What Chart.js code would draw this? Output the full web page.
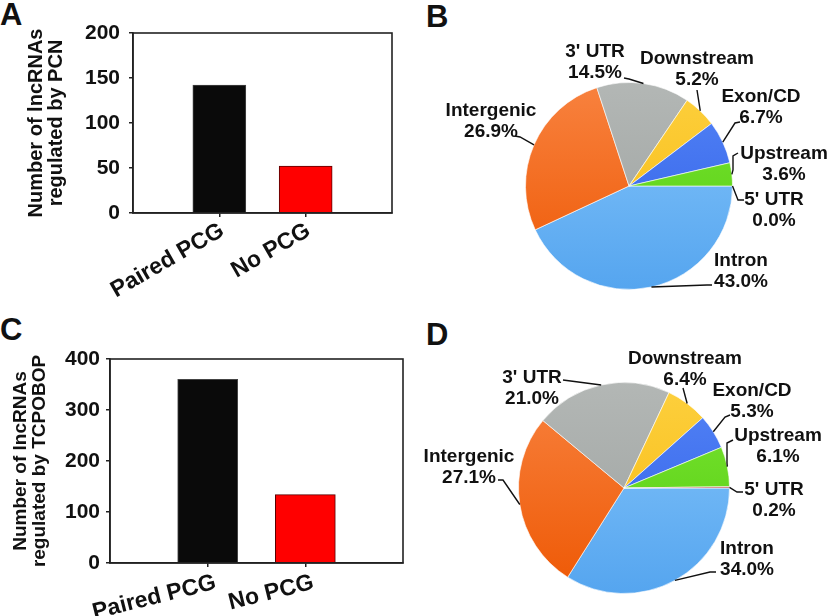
<!DOCTYPE html>
<html>
<head>
<title>lncRNAs regulated by PCN and TCPOBOP</title>
<script src="https://cdn.jsdelivr.net/npm/chart.js"></script>
<style>
  body { margin: 0; width: 830px; height: 616px; position: relative; background: #fff; overflow: hidden;
         font-family: "Liberation Sans", Arial, sans-serif; }
  .panel { position: absolute; }
  .tag { position: absolute; font-weight: bold; font-size: 31px; line-height: 1; color: #111; }
</style>
</head>
<body>

<div class="tag" style="left:0;top:-1px">A</div>
<div class="tag" style="left:426px;top:1px">B</div>
<div class="tag" style="left:0;top:314px">C</div>
<div class="tag" style="left:426px;top:319px">D</div>

<div class="panel" style="left:0;top:0;width:420px;height:300px"><canvas id="barA"></canvas></div>
<div class="panel" style="left:420px;top:0;width:410px;height:300px"><canvas id="pieB"></canvas></div>
<div class="panel" style="left:0;top:300px;width:420px;height:316px"><canvas id="barC"></canvas></div>
<div class="panel" style="left:420px;top:300px;width:410px;height:316px"><canvas id="pieD"></canvas></div>

<script>
  // Daten
  const barCategories = ['Paired PCG', 'No PCG'];
  const pcnCounts = [142, 52];
  const tcpobopCounts = [360, 134];
  const pcnTicks = [0, 50, 100, 150, 200];
  const tcpobopTicks = [0, 100, 200, 300, 400];

  const pieCategories = ['Intron', 'Intergenic', "3' UTR", 'Downstream', 'Exon/CD', 'Upstream', "5' UTR"];
  const pcnShares = [43.0, 26.9, 14.5, 5.2, 6.7, 3.6, 0.0];
  const tcpobopShares = [34.0, 27.1, 21.0, 6.4, 5.3, 6.1, 0.2];

  const FONT = '"Liberation Sans", Arial, sans-serif';
  const barColors = ['#0a0a0a', '#ff0000'];
  const barBorders = ['#444', '#5a0000'];
  // [hell, dunkel] pro Segment
  const pieColors = [
    ['#86c6fb', '#55a5ef'],
    ['#f8823f', '#ee5804'],
    ['#b3b7b5', '#9ca19f'],
    ['#fdd03e', '#f6b80e'],
    ['#5384f6', '#2f5de6'],
    ['#7be532', '#52cb10'],
    ['#d04a4a', '#b03030']
  ];

  // Rahmen um den Plotbereich
  const frame = {
    id: 'frame',
    afterDraw(chart) {
      const { ctx, chartArea: a } = chart;
      ctx.save();
      ctx.strokeStyle = '#222';
      ctx.lineWidth = 1.6;
      ctx.strokeRect(a.left, a.top, a.right - a.left, a.bottom - a.top);
      ctx.restore();
    }
  };

  function barChart(id, counts, ticks, title, box) {
    new Chart(document.getElementById(id), {
      type: 'bar',
      data: {
        labels: ['', ...barCategories, ''],
        datasets: [{
          data: [null, ...counts, null],
          backgroundColor: ['transparent', ...barColors, 'transparent'],
          borderColor: ['transparent', ...barBorders, 'transparent'],
          borderWidth: 1,
          barThickness: box.barW
        }]
      },
      options: {
        responsive: true,
        maintainAspectRatio: false,
        animation: false,
        layout: { padding: { top: box.top, right: box.right, left: 0, bottom: 0 } },
        plugins: { legend: { display: false }, tooltip: { enabled: false } },
        scales: {
          x: {
            offset: false,
            grid: {
              offset: false, drawOnChartArea: false, tickLength: 4, lineWidth: 1.5,
              color: c => (c.index === 1 || c.index === 2) ? '#222' : 'rgba(0,0,0,0)'
            },
            border: { color: '#222', width: 1.6 },
            ticks: {
              autoSkip: false, minRotation: box.rot, maxRotation: box.rot, padding: box.xpad,
              labelOffset: box.xoff,
              color: '#111', font: { family: FONT, size: 23, weight: 'bold' }
            },
            afterFit: s => { s.height = box.xh; }
          },
          y: {
            min: ticks[0],
            max: ticks[ticks.length - 1],
            afterBuildTicks: s => { s.ticks = ticks.map(v => ({ value: v })); },
            grid: { drawOnChartArea: false, tickLength: 4, color: '#222', lineWidth: 1.5 },
            border: { color: '#222', width: 1.6 },
            ticks: { padding: box.ypad, color: '#111', font: { family: FONT, size: 21, weight: 'bold' } },
            title: {
              display: true, text: title, color: '#111',
              font: { family: FONT, size: box.tsize, weight: 'bold', lineHeight: 1.0 },
              padding: { top: box.tpad, bottom: 0 }
            },
            afterFit: s => { s.width = box.left; }
          }
        }
      },
      plugins: [frame]
    });
  }

  // Beschriftungen mit Führungslinien
  const leaderLabels = {
    id: 'leaderLabels',
    afterDraw(chart, args, opts) {
      const { ctx } = chart;
      const ds = chart.data.datasets[0];
      const meta = chart.getDatasetMeta(0);
      ctx.save();
      ctx.strokeStyle = '#111';
      ctx.lineWidth = 1.4;
      ctx.fillStyle = '#111';
      ctx.font = 'bold 19px ' + FONT;
      ctx.textAlign = 'center';
      ctx.textBaseline = 'middle';
      meta.data.forEach((arc, i) => {
        const p = arc.getProps(['x', 'y', 'startAngle', 'endAngle', 'outerRadius'], true);
        const mid = (p.startAngle + p.endAngle) / 2;
        const spec = opts.layout[i];
        ctx.beginPath();
        ctx.moveTo(p.x + Math.cos(mid) * p.outerRadius, p.y + Math.sin(mid) * p.outerRadius);
        spec.l.forEach(pt => ctx.lineTo(p.x + pt[0], p.y + pt[1]));
        ctx.stroke();
        const tx = p.x + spec.t[0], ty = p.y + spec.t[1];
        ctx.fillText(chart.data.labels[i], tx, ty - 10.5);
        ctx.fillText(ds.data[i].toFixed(1) + '%', tx, ty + 10.5);
      });
      ctx.restore();
    }
  };

  function pieChart(id, shares, pad, layout) {
    new Chart(document.getElementById(id), {
      type: 'pie',
      data: {
        labels: pieCategories,
        datasets: [{
          data: shares,
          backgroundColor: c => {
            const col = pieColors[c.dataIndex];
            const a = c.chart.chartArea;
            if (!a) return col[1];
            const g = c.chart.ctx.createLinearGradient(0, a.top, 0, a.bottom);
            g.addColorStop(0, col[0]);
            g.addColorStop(1, col[1]);
            return g;
          },
          borderColor: 'rgba(255,255,255,0.6)',
          borderWidth: 1
        }]
      },
      options: {
        responsive: true,
        maintainAspectRatio: false,
        animation: false,
        rotation: 90,
        layout: { padding: pad },
        plugins: { legend: { display: false }, tooltip: { enabled: false }, leaderLabels: { layout } }
      },
      plugins: [leaderLabels]
    });
  }

  barChart('barA', pcnCounts, pcnTicks, ['Number of lncRNAs', 'regulated by PCN'],
    { left: 133, right: 28, top: 33, xh: 87, barW: 53, rot: 30, xpad: 0, xoff: 3, ypad: 9, tpad: 26, tsize: 20 });
  barChart('barC', tcpobopCounts, tcpobopTicks, ['Number of lncRNAs', 'regulated by TCPOBOP'],
    { left: 110, right: 17, top: 59, xh: 53, barW: 60, rot: 14, xpad: 2, xoff: 8, ypad: 6, tpad: 11, tsize: 19 });

  pieChart('pieB', pcnShares, { left: 105, right: 97, top: 82, bottom: 10 }, [
    { t: [112, 85], l: [[78, 99], [83, 99]] },
    { t: [-138, -65], l: [[-109, -49], [-114, -50]] },
    { t: [-34, -124], l: [[0, -107], [-5, -108]] },
    { t: [68, -117], l: [[68, -96]] },
    { t: [132, -79], l: [[106, -63], [111, -64]] },
    { t: [155, -22], l: [[104, -16], [104, -30], [109, -33]] },
    { t: [145, 24], l: [[109, 14], [115, 14]] }
  ]);
  pieChart('pieD', tcpobopShares, { left: 98, right: 100, top: 82, bottom: 22 }, [
    { t: [123, 71], l: [[86, 84], [92, 84]] },
    { t: [-155, -21], l: [[-121, -8], [-126, -8]] },
    { t: [-92, -100], l: [[-61, -108]] },
    { t: [61, -119], l: [[59, -100]] },
    { t: [128, -87], l: [[101, -71], [106, -73]] },
    { t: [154, -42], l: [[103, -25], [103, -45], [109, -48]] },
    { t: [150, 12], l: [[113, 4], [119, 4]] }
  ]);
</script>

</body>
</html>
